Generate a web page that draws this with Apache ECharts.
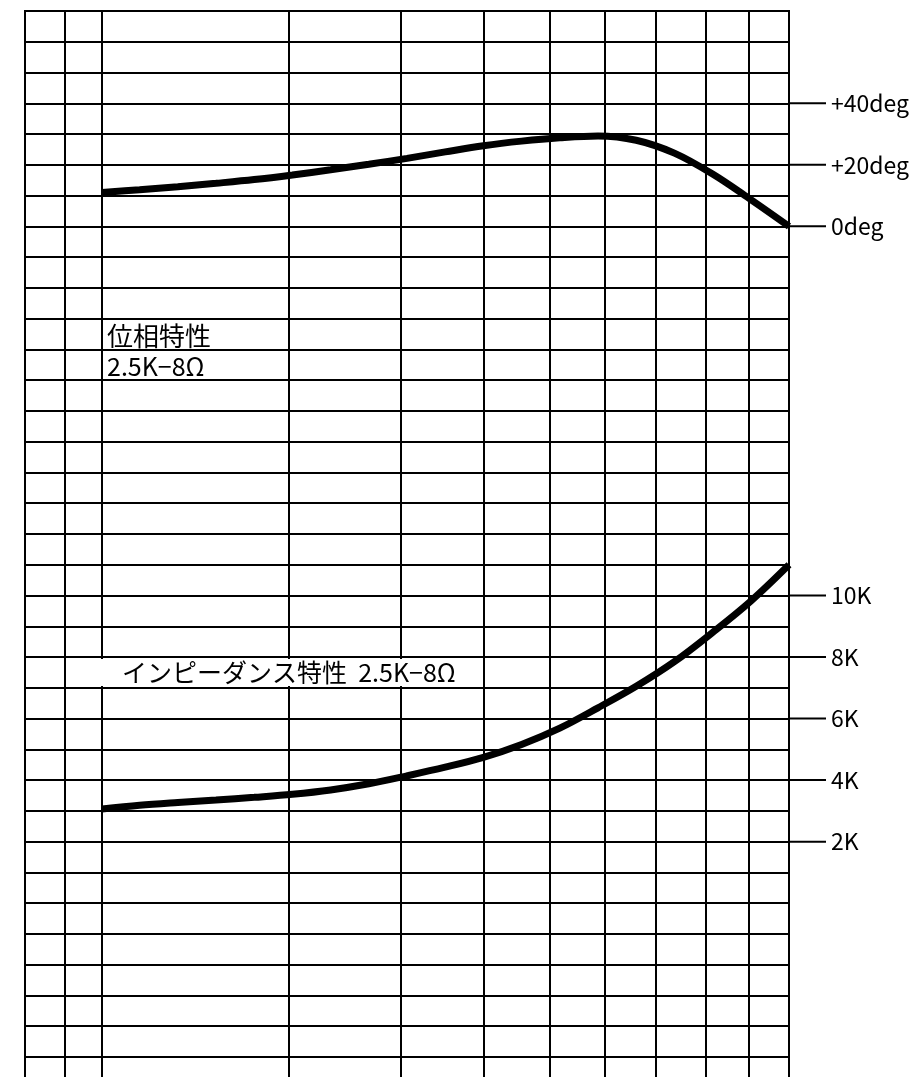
<!DOCTYPE html>
<html>
<head>
<meta charset="utf-8">
<title>位相特性・インピーダンス特性 2.5K-8Ω</title>
<script src="https://cdn.jsdelivr.net/npm/echarts@6/dist/echarts.min.js"></script>
<style>
  html, body { margin: 0; padding: 0; background: #fff; }
  #main { width: 916px; height: 1077px; }
</style>
</head>
<body>
<div id="main"></div>
<script>
// 周波数方向の縦線（横軸は 0〜100 の相対位置）
const gridX = [0, 5.24, 10.08, 34.55, 49.21, 60.08, 68.72, 75.92, 82.59, 89.14, 94.76, 100];

// 曲線の読み取り位置
const curveX = [10.08, 15, 20, 25, 30, 35, 40, 45, 50, 55, 60, 65, 70, 75, 80, 85, 90, 95, 100];

// 位相特性 (deg)
const phaseDeg = [11.0, 11.9, 12.9, 14.0, 15.2, 16.7, 18.4, 20.2, 22.1, 24.2, 26.2, 27.7, 28.8, 29.4, 28.0, 23.8, 17.0, 8.7, 0];

// インピーダンス特性 (Ω)
const impOhm = [3060, 3180, 3270, 3350, 3440, 3540, 3680, 3880, 4140, 4420, 4740, 5160, 5690, 6350, 7050, 7850, 8800, 9820, 11000];

// 右側の目盛ラベル
const phaseTicks = { 40: '+40deg', 20: '+20deg', 0: '0deg' };
const impTicks = { 10000: '10K', 8000: '8K', 6000: '6K', 4000: '4K', 2000: '2K' };

const FONT = '"Noto Sans CJK JP", "Noto Sans CJK SC", sans-serif';

const tickRich = {
  t: { width: 37, height: 2, backgroundColor: '#000' },
  v: { fontSize: 23, fontFamily: FONT, color: '#000', padding: [0, 0, 0, 5] }
};

const chart = echarts.init(document.getElementById('main'));

chart.setOption({
  animation: false,
  backgroundColor: '#fff',
  grid: { left: 25, right: 127, top: 11, bottom: 20, outerBoundsMode: 'none' },
  xAxis: { type: 'value', min: 0, max: 100, show: false },
  yAxis: [
    {
      type: 'value', min: -270, max: 70, interval: 10, position: 'right',
      axisLine: { show: false }, axisTick: { show: false },
      splitLine: { show: true, lineStyle: { color: '#000', width: 2, type: 'solid' } },
      axisLabel: {
        margin: 0,
        formatter: v => phaseTicks[v] ? '{t|}{v|' + phaseTicks[v] + '}' : '',
        rich: tickRich
      }
    },
    {
      type: 'value', min: -5000, max: 29000, interval: 1000, position: 'right',
      axisLine: { show: false }, axisTick: { show: false },
      splitLine: { show: false },
      axisLabel: {
        margin: 0,
        formatter: v => impTicks[v] ? '{t|}{v|' + impTicks[v] + '}' : '',
        rich: tickRich
      }
    }
  ],
  graphic: [
    { type: 'text', x: 107, y: 336, z: 100,
      style: { text: '位相特性', font: '26px ' + FONT, fill: '#000', align: 'left', verticalAlign: 'middle' } },
    { type: 'text', x: 107, y: 366, z: 100,
      style: { text: '2.5K−8Ω', font: '25px ' + FONT, fill: '#000', align: 'left', verticalAlign: 'middle' } },
    { type: 'text', x: 96, y: 672.5, z: 100,
      style: { text: 'インピーダンス特性  2.5K−8Ω', font: '25px ' + FONT, fill: '#000',
        align: 'left', verticalAlign: 'middle', lineHeight: 25,
        backgroundColor: '#fff', padding: [1, 8, 1, 26] } }
  ],
  series: [
    {
      type: 'custom',
      silent: true,
      z: 3,
      data: gridX.map(x => [x]),
      renderItem: (params, api) => {
        const top = api.coord([api.value(0), 70]);
        const bot = api.coord([api.value(0), -270]);
        const x = Math.round(top[0]);
        return {
          type: 'line',
          shape: { x1: x, y1: top[1] - 1, x2: x, y2: bot[1] + 25 },
          style: { stroke: '#000', lineWidth: 2 }
        };
      }
    },
    {
      name: '位相特性',
      type: 'line',
      yAxisIndex: 0,
      data: curveX.map((x, i) => [x, phaseDeg[i]]),
      smooth: 0.35,
      showSymbol: false,
      clip: false,
      z: 5,
      lineStyle: { color: '#000', width: 7 }
    },
    {
      name: 'インピーダンス特性',
      type: 'line',
      yAxisIndex: 1,
      data: curveX.map((x, i) => [x, impOhm[i]]),
      smooth: 0.35,
      showSymbol: false,
      clip: false,
      z: 5,
      lineStyle: { color: '#000', width: 7 }
    }
  ]
});
</script>
</body>
</html>
